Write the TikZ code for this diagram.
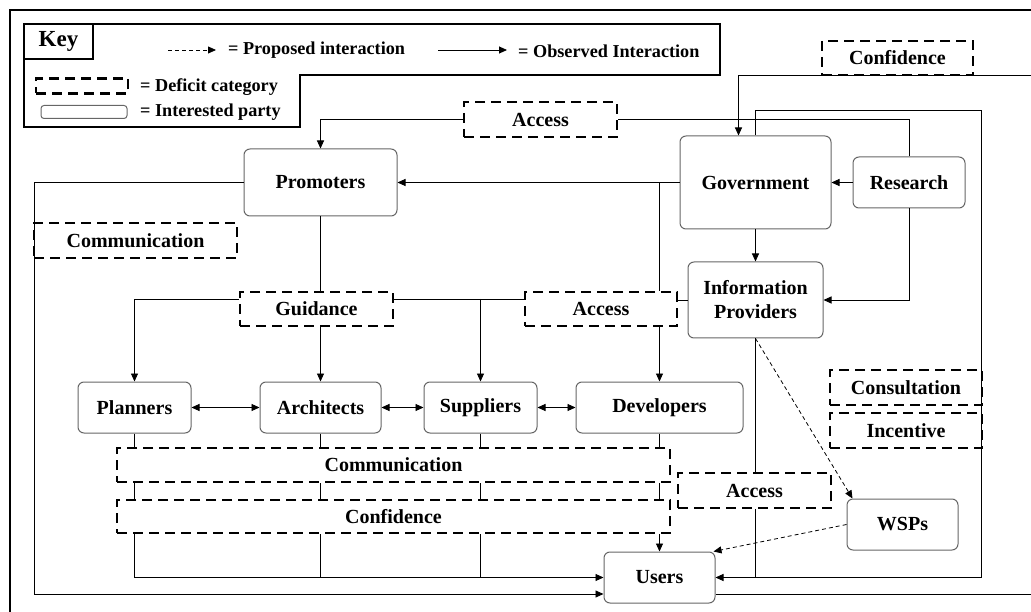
\documentclass[tikz,border=0pt]{standalone}
\usepackage{fontspec}
\setmainfont{Liberation Serif}
\usetikzlibrary{arrows.meta,positioning,calc}

\begin{document}
\begin{tikzpicture}[x=1pt,y=-1pt,
  party/.style={rectangle, rounded corners=6pt, draw=black!60, line width=1pt,
                font=\fontsize{20}{24}\selectfont\bfseries, align=center, inner sep=2pt},
  deficit/.style={rectangle, draw=black, line width=2.8pt, dash pattern=on 10pt off 6pt,
                  font=\fontsize{20}{24}\selectfont\bfseries, inner sep=2pt},
  keytxt/.style={anchor=west, font=\fontsize{18.2}{21}\selectfont\bfseries, inner sep=0pt},
  fline/.style={line width=0.9pt},
  farr/.style={-{Triangle[length=8pt,width=7pt]}, line width=0.9pt},
  barr/.style={{Triangle[length=8pt,width=7pt]}-{Triangle[length=8pt,width=7pt]}, line width=0.9pt},
  parr/.style={-{Triangle[length=8pt,width=7pt]}, line width=0.8pt, dash pattern=on 4pt off 3pt}
]
\useasboundingbox (0,0) rectangle (1031,612);

% Frame and key
\draw[line width=2.8pt] (10,612) -- (10,10) -- (1031,10);
\draw[line width=2.8pt] (24,24) -- (720,24) -- (720,75) -- (300,75) -- (300,127) -- (24,127) -- cycle;
\node[draw, line width=2.8pt, outer sep=0pt, anchor=north west, minimum width=69pt, minimum height=35pt,
      font=\fontsize{23}{26}\selectfont\bfseries] (key) at (24,24) {Key};
\coordinate (kp1) at (168,50);
\coordinate (kp2) at (216,50);
\coordinate (ko1) at (438,50);
\coordinate (ko2) at (507,50);
\draw[parr] (kp1) -- (kp2);
\node[keytxt] (kprop) at (228,50) {= Proposed interaction};
\draw[farr] (ko1) -- (ko2);
\node[keytxt] (kobs) at (518,51) {= Observed Interaction};
\node[deficit, minimum width=92pt, minimum height=15pt, inner sep=0pt] (kdef) at (82,86) {};
\node[keytxt] (kdeft) at (140,87) {= Deficit category};
\node[party, minimum width=86pt, minimum height=13pt, rounded corners=3pt, inner sep=0pt] (kpar) at (84,112) {};
\node[keytxt] (kpart) at (140,112) {= Interested party};

% Interested parties
\node[party, minimum width=153pt, minimum height=67pt] (prom)  at (320.5,182.5) {Promoters};
\node[party, minimum width=151pt, minimum height=93pt] (gov)   at (755.5,182.5) {Government};
\node[party, minimum width=112pt, minimum height=51pt] (res)   at (909,182.5)   {Research};
\node[party, minimum width=135pt, minimum height=76pt] (info)  at (755.5,300)   {Information\\Providers};
\node[party, minimum width=113pt, minimum height=51pt] (plan)  at (134.5,407.5) {Planners};
\node[party, minimum width=121pt, minimum height=51pt] (arch)  at (320.5,407.5) {Architects};
\node[party, minimum width=113pt, minimum height=51pt] (supp)  at (480.5,407.5) {Suppliers};
\node[party, minimum width=167pt, minimum height=51pt] (dev)   at (659.5,407.5) {Developers};
\node[party, minimum width=111pt, minimum height=51pt] (wsp)   at (902.5,524.5) {WSPs};
\node[party, minimum width=111pt, minimum height=51pt] (users) at (659.5,577.5) {Users};

% Deficit categories
\node[deficit, minimum width=151pt, minimum height=34pt] (cnf1) at (897.5,58)  {Confidence};
\node[deficit, minimum width=153pt, minimum height=35pt] (acc1) at (540.5,119.5) {Access};
\node[deficit, minimum width=203pt, minimum height=35pt] (com1) at (135.5,240.5) {Communication};
\node[deficit, minimum width=153pt, minimum height=34pt] (guid) at (316.5,309) {Guidance};
\node[deficit, minimum width=152pt, minimum height=34pt] (acc2) at (601,309)   {Access};
\node[deficit, minimum width=152pt, minimum height=35pt] (cons) at (906,387.5) {Consultation};
\node[deficit, minimum width=152pt, minimum height=35pt] (inc)  at (906,430.5) {Incentive};
\node[deficit, minimum width=153pt, minimum height=35pt] (acc3) at (754.5,490.5) {Access};
\node[deficit, minimum width=553pt, minimum height=34pt] (com2) at (393.5,465) {Communication};
\node[deficit, minimum width=553pt, minimum height=33pt] (cnf2) at (393.5,516.5) {Confidence};

% Helper points
\coordinate (cnfin)  at (1031,75);
\coordinate (loopNE) at (981,110);
\coordinate (glev)   at (0,299);
\coordinate (lowL)   at (34,594);
\coordinate (frmR)   at (1031,594);

% Top part
\draw[farr] (cnfin) -| ([xshift=-17pt]gov.north);
\draw[farr] (gov.north) |- (loopNE) |- (users.east);
\draw[fline] (res.north) |- (acc1.east);
\draw[farr] (acc1.west) -| (prom.north);
\draw[farr] (res.west) -- (gov.east);
\draw[farr] (res.south) |- (info.east);
\draw[farr] (gov.west) -- (prom.east);
\draw[farr] (gov.south) -- (info.north);

% Middle part
\draw[fline] (gov.west -| dev.north) -- (acc2.north -| dev.north);
\draw[farr] (acc2.south -| dev.north) -- (dev.north);
\draw[fline] (info.west) -- (info.west -| acc2.east);
\draw[fline] (glev -| acc2.west) -- (glev -| guid.east);
\draw[farr] (glev -| supp.north) -- (supp.north);
\draw[farr] (glev -| guid.west) -| (plan.north);
\draw[fline] (prom.south) -- (guid.north -| prom.south);
\draw[farr] (guid.south -| arch.north) -- (arch.north);
\draw[farr] (prom.west) -| (lowL) -- (lowL -| users.west);
\draw[barr] (plan.east) -- (arch.west);
\draw[barr] (arch.east) -- (supp.west);
\draw[barr] (supp.east) -- (dev.west);

% Bottom part
\foreach \n in {plan,arch,supp,dev}{
  \draw[fline] (\n.south) -- (\n.south |- com2.north);
  \draw[fline] (\n.south |- com2.south) -- (\n.south |- cnf2.north);
}
\foreach \n in {arch,supp}
  \draw[fline] (\n.south |- cnf2.south) -- (\n.south |- users.west);
\draw[farr] (plan.south |- cnf2.south) |- (users.west);
\draw[farr] (dev.south |- cnf2.south) -- (users.north);
\draw[fline] (info.south) -- (acc3.north -| info.south);
\draw[fline] (acc3.south -| info.south) -- (info.south |- users.east);
\draw[parr] (info.south) -- ([xshift=6pt]wsp.north west);
\draw[parr] (wsp.west) -- ([xshift=-2pt]users.north east);
\draw[fline] (lowL -| users.east) -- (frmR);
\end{tikzpicture}
\end{document}
